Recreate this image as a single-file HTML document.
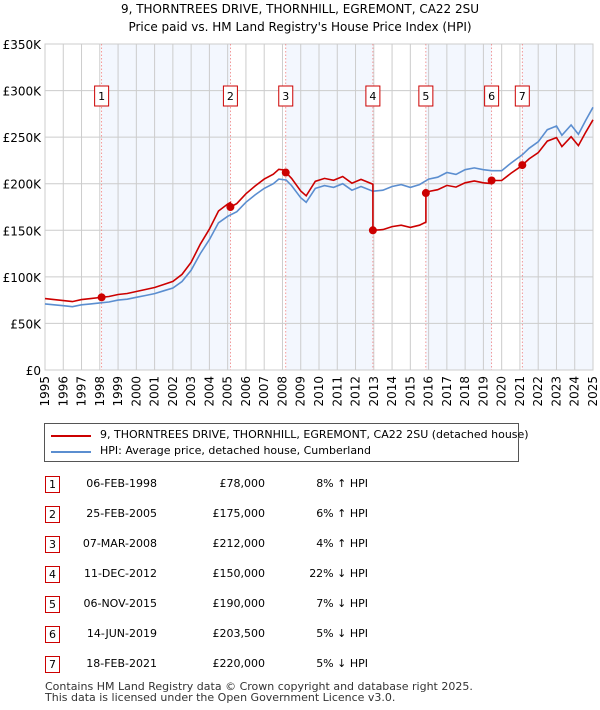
<!DOCTYPE html>
<html><head><meta charset="utf-8"><style>
body{margin:0;background:#fff;font-family:"DejaVu Sans","Liberation Sans",sans-serif;}
#wrap{position:relative;width:600px;height:710px;overflow:hidden}
.t{position:absolute;font-size:11px;color:#000;white-space:nowrap}
</style></head><body><div id="wrap">
<div class="t" style="left:0;width:600px;text-align:center;top:2px;font-size:12px">9, THORNTREES DRIVE, THORNHILL, EGREMONT, CA22 2SU</div>
<div class="t" style="left:0;width:600px;text-align:center;top:20px;font-size:12px">Price paid vs. HM Land Registry's House Price Index (HPI)</div>
<svg id="chart" width="600" height="420" style="position:absolute;left:0;top:0" font-family="DejaVu Sans, Liberation Sans, sans-serif" font-size="12"></svg>
<div style="position:absolute;left:44px;top:423px;width:473px;height:37px;border:1px solid #555;">
 <div style="position:absolute;left:6px;top:11px;width:40px;height:2px;background:#cc0000"></div>
 <div class="t" style="left:55px;top:4px">9, THORNTREES DRIVE, THORNHILL, EGREMONT, CA22 2SU (detached house)</div>
 <div style="position:absolute;left:6px;top:27px;width:40px;height:2px;background:#5b8ed0"></div>
 <div class="t" style="left:55px;top:20px">HPI: Average price, detached house, Cumberland</div>
</div>
<div id="table"></div>
<div class="t" style="left:45px;top:680px;color:#333">Contains HM Land Registry data © Crown copyright and database right 2025.</div>
<div class="t" style="left:45px;top:691px;color:#333">This data is licensed under the Open Government Licence v3.0.</div>
</div>
<script>
const hpiYears=[1995,1995.5,1996,1996.5,1997,1997.5,1998,1998.5,1999,1999.5,2000,2000.5,2001,2001.5,2002,2002.5,2003,2003.5,2004,2004.5,2005,2005.5,2006,2006.5,2007,2007.5,2007.8,2008.2,2008.5,2009,2009.3,2009.8,2010.3,2010.8,2011.3,2011.8,2012.3,2012.95,2013.5,2014,2014.5,2015,2015.5,2016,2016.5,2017,2017.5,2018,2018.5,2019,2019.45,2020,2020.5,2021.13,2021.5,2022,2022.5,2023,2023.3,2023.8,2024.2,2024.6,2025];
const hpiValues=[71,70,69,68,70,71,72,73,75,76,78,80,82,85,88,95,107,125,140,158,165,170,180,188,195,200,205,204,198,185,180,195,198,196,200,193,197,192,193,197,199,196,199,205,207,212,210,215,217,215,214,214,222,231,238,245,258,262,252,263,253,268,282];
const saleDates=[1998.1,2005.15,2008.18,2012.95,2015.85,2019.45,2021.13];
const salePrices=[78,175,212,150,190,203.5,220];
const saleLabels=["1","2","3","4","5","6","7"];
const saleDateText=["06-FEB-1998","25-FEB-2005","07-MAR-2008","11-DEC-2012","06-NOV-2015","14-JUN-2019","18-FEB-2021"];
const salePriceText=["£78,000","£175,000","£212,000","£150,000","£190,000","£203,500","£220,000"];
const saleHpiText=["8% ↑ HPI","6% ↑ HPI","4% ↑ HPI","22% ↓ HPI","7% ↓ HPI","5% ↓ HPI","5% ↓ HPI"];
const yTicks=[0,50,100,150,200,250,300,350];
const yTickLabels=["£0","£50K","£100K","£150K","£200K","£250K","£300K","£350K"];

const X0=45,X1=593,Y0=370,Y1=44;
const x=t=>X0+(t-1995)/30*(X1-X0);
const y=v=>Y0-v/350*(Y0-Y1);
function hpiAt(t){for(let i=1;i<hpiYears.length;i++){if(t<=hpiYears[i]){const a=hpiYears[i-1],b=hpiYears[i];return hpiValues[i-1]+(hpiValues[i]-hpiValues[i-1])*(t-a)/(b-a);}}return hpiValues[hpiValues.length-1];}
const NS="http://www.w3.org/2000/svg",svg=document.getElementById('chart');
function mk(tag,attrs,parent){const e=document.createElementNS(NS,tag);for(const k in attrs)e.setAttribute(k,attrs[k]);(parent||svg).appendChild(e);return e;}
for(let i=0;i<saleDates.length;i+=2){const s=saleDates[i],e=i+1<saleDates.length?saleDates[i+1]:2025;
 const r=mk('rect',{x:x(s),y:Y1,width:x(e)-x(s),height:Y0-Y1,fill:'#eef3fd',opacity:0.7});
 
 }
for(let yr=1995;yr<=2025;yr++){const l=mk('line',{x1:x(yr),x2:x(yr),y1:Y1,y2:Y0,stroke:'#cccccc','stroke-width':1});
 
 
 const px=x(yr)+4,py=Y0+6;
 const tx=mk('text',{x:px,y:py,transform:'rotate(-90 '+px+' '+py+')','text-anchor':'end'});tx.textContent=yr;
 
 }
yTicks.forEach((v,i)=>{const l=mk('line',{x1:X0,x2:X1,y1:y(v),y2:y(v),stroke:'#cccccc','stroke-width':1});
 
 
 const tx=mk('text',{x:X0-4,y:y(v)+5,'text-anchor':'end'});tx.textContent=yTickLabels[i];
 
 });
const fr=mk('rect',{x:X0,y:Y1,width:X1-X0,height:Y0-Y1,fill:'none',stroke:'#cccccc'});


saleDates.forEach((d,i)=>{const l=mk('line',{x1:x(d),x2:x(d),y1:Y1,y2:Y0,stroke:'#f08080','stroke-width':0.8,'stroke-dasharray':'1.5,2'});
 
 
 const r=mk('rect',{x:x(d)-7,y:86,width:14,height:20,fill:'#fff',stroke:'#cc0000','stroke-width':1});
 
 
 const t=mk('text',{x:x(d),y:100,'text-anchor':'middle','font-size':11});t.textContent=saleLabels[i];
 
 });
let pts=hpiYears.map((t,i)=>x(t).toFixed(1)+','+y(hpiValues[i]).toFixed(1)).join(' ');
const hl=mk('polyline',{points:pts,fill:'none',stroke:'#5b8ed0','stroke-width':1.6});


let rp=[];
for(let k=0;k<saleDates.length;k++){const s=k==0?1995:saleDates[k],e=k+1<saleDates.length?saleDates[k+1]:2025;
 const base=hpiAt(saleDates[k]);const ts=[s,...hpiYears.filter(t=>t>s&&t<e),e];
 ts.forEach(t=>rp.push(x(t).toFixed(1)+','+y(salePrices[k]*hpiAt(t)/base).toFixed(1)));}
const pl=mk('polyline',{points:rp.join(' '),fill:'none',stroke:'#cc0000','stroke-width':1.6});


saleDates.forEach((d,i)=>{const c=mk('circle',{cx:x(d),cy:y(salePrices[i]),r:4,fill:'#cc0000'});
 
 });
const tb=document.getElementById('table');
saleDates.forEach((d,i)=>{const top=476+i*30;
 const row=document.createElement('div');
 
 
 row.innerHTML=`<div style="position:absolute;left:45px;top:${top}px;width:13px;height:15px;border:1px solid #cc0000;font-size:11px;text-align:center;line-height:15px">${saleLabels[i]}</div>
 <div class="t" style="left:60px;width:97px;text-align:right;top:${top+1}px">${saleDateText[i]}</div>
 <div class="t" style="left:165px;width:100px;text-align:right;top:${top+1}px">${salePriceText[i]}</div>
 <div class="t" style="left:270px;width:98px;text-align:right;top:${top+1}px">${saleHpiText[i]}</div>`;
 tb.appendChild(row);});
</script></body></html>
